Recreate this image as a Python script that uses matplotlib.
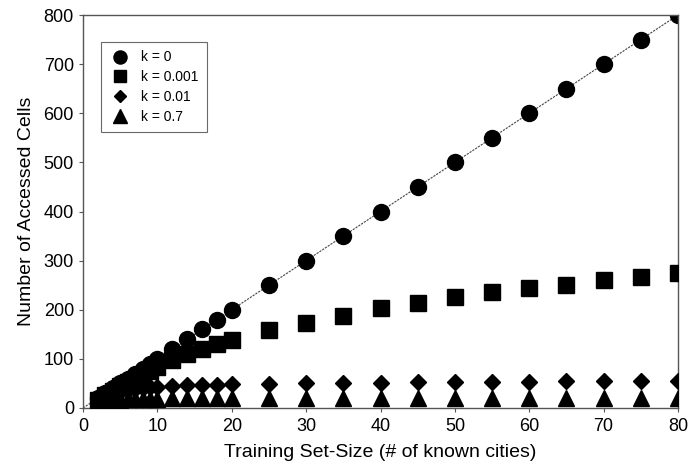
import matplotlib
matplotlib.use("Agg")
import matplotlib.pyplot as plt

plt.rcParams['font.family'] = ['Liberation Sans', 'DejaVu Sans']

# training set sizes (number of known cities)
x_vals = [2, 3, 4, 5, 6, 7, 8, 9, 10, 12, 14, 16, 18, 20,
          25, 30, 35, 40, 45, 50, 55, 60, 65, 70, 75, 80]

# accessed cells for each smoothing constant k
cells_k0 = [20, 30, 40, 50, 60, 70, 80, 90, 100, 120, 140, 160, 180, 200,
            250, 300, 350, 400, 450, 500, 550, 600, 650, 700, 750, 800]
cells_k0001 = [17, 26, 35, 44, 52, 60, 68, 76, 84, 98, 110, 121, 131, 139,
               159, 174, 188, 203, 214, 225, 236, 244, 251, 260, 267, 274]
cells_k001 = [18, 24, 29, 33, 36, 39, 41, 42, 43, 45, 46, 47, 47, 48,
              49, 50, 51, 51, 52, 52, 53, 53, 54, 54, 54, 55]
cells_k07 = [12, 14, 16, 17, 18, 18, 19, 19, 19, 20, 20, 20, 20, 20,
             20, 20, 20, 20, 20, 20, 20, 20, 20, 20, 20, 20]

labels = ["k = 0", "k = 0.001", "k = 0.01", "k = 0.7"]
ref_line_x = [0, 80]
ref_line_y = [0, 800]

fig = plt.figure(figsize=(6.91, 4.75), dpi=100)
ax = fig.add_axes([83 / 691, 1 - 408 / 475, (678 - 83) / 691, (408 - 15) / 475])

ax.plot(ref_line_x, ref_line_y, linestyle=(0, (2, 1)), color='#444444',
        linewidth=0.8, zorder=1)

ax.plot(x_vals, cells_k0, 'o', color='black', markersize=11.5,
        label=labels[0], zorder=2)
ax.plot(x_vals, cells_k0001, 's', color='black', markersize=11,
        label=labels[1], zorder=3)
ax.plot(x_vals, cells_k001, 'D', color='black', markersize=8,
        label=labels[2], zorder=4)
ax.plot(x_vals, cells_k07, '^', color='black', markersize=11.5,
        label=labels[3], zorder=5)

ax.set_xlim(0, 80)
ax.set_ylim(0, 800)
ax.set_xticks(range(0, 81, 10))
ax.set_yticks(range(0, 801, 100))
ax.tick_params(axis='both', labelsize=13, direction='out', length=3,
               width=0.8, color='#555555')
ax.tick_params(axis='x', pad=4)
for s in ax.spines.values():
    s.set_color('#555555')
    s.set_linewidth(1.0)

ax.set_xlabel("Training Set-Size (# of known cities)", fontsize=14, labelpad=7)
ax.set_ylabel("Number of Accessed Cells", fontsize=14, labelpad=6)

leg = ax.legend(loc='upper left', bbox_to_anchor=(0.03, 0.931), fontsize=10,
                markerscale=0.82, frameon=True, fancybox=False,
                edgecolor='#444444', borderpad=0.6, labelspacing=0.42,
                handletextpad=0.8, handlelength=1.5, borderaxespad=0)
leg.get_frame().set_linewidth(0.8)

fig.savefig("out.png", dpi=100)
